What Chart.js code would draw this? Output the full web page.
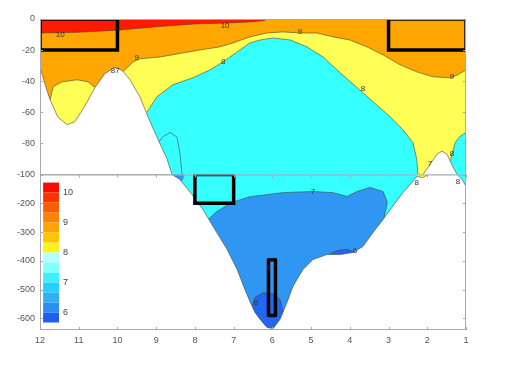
<!DOCTYPE html>
<html>
<head>
<meta charset="utf-8">
<script src="https://cdn.jsdelivr.net/npm/chart.js@4.4.1/dist/chart.umd.min.js"></script>
<style>
  html, body { margin: 0; padding: 0; background: #fff; }
  #wrap { width: 510px; height: 365px; }
</style>
</head>
<body>
<div id="wrap"><canvas id="chart"></canvas></div>
<script>
// ===== tick labels =====
const xTicks = [12, 11, 10, 9, 8, 7, 6, 5, 4, 3, 2, 1];
const topTicks = [0, -20, -40, -60, -80, -100];
const botTicks = [-200, -300, -400, -500, -600];

// ===== contour lines: [x, depth] =====
// upper panel (0 .. -100 m)
const line10 = [[12, -9], [11, -8.5], [10, -7.2], [9, -5], [8, -3.2], [7, -2.4], [6.5, -1.8], [6.19, -0.9]];
const line9 = [[9.86, -34], [9.6, -27.6], [9.42, -25.6], [8.9, -24.4], [8.31, -21.8], [7.87, -19.9], [7.35, -17.9],
  [7.02, -15.4], [6.58, -11.5], [6.14, -9], [5.73, -8.3], [5.29, -9], [4.85, -9], [4.43, -11.5], [4, -13.5],
  [3.56, -17.9], [3.14, -23.1], [2.7, -29.5], [2.27, -34], [1.85, -37.2], [1.41, -37.8], [1.21, -35.9], [1, -32.7]];
const blob9 = [[10.58, -44], [10.76, -40.4], [11.04, -39.1], [11.43, -40.4], [11.66, -43.6], [11.74, -52]];
const line8 = [[9.24, -60], [8.98, -50], [8.57, -42.3], [8.05, -37.8], [7.61, -32.7], [7.27, -27.6], [7.02, -23.1],
  [6.58, -15.4], [6.32, -13.5], [5.98, -12.2], [5.54, -13.5], [5.11, -17.9], [4.69, -24.4], [4.25, -34.6],
  [3.81, -44.2], [3.4, -53.2], [2.96, -62.8], [2.63, -71.2], [2.37, -79.5], [2.27, -90.4], [2.24, -100]];
const right8 = [[1, -73], [1.16, -75.6], [1.28, -79.5], [1.36, -87], [1.4, -91]];
const loop7 = [[8.93, -79], [8.82, -75.6], [8.64, -73], [8.46, -76], [8.39, -86], [8.33, -100]];
const seabedLeft = [[12, -30.8], [11.87, -42], [11.74, -52], [11.54, -63], [11.3, -68], [11.1, -66], [10.84, -56],
  [10.58, -44], [10.32, -35], [10.06, -31], [9.88, -33], [9.68, -39], [9.42, -50], [9.21, -63], [8.98, -76],
  [8.72, -90], [8.59, -100], [12, -100]];
const seabedHill = [[2.11, -100], [1.93, -93.6], [1.75, -87], [1.62, -85], [1.49, -87], [1.36, -94], [1.23, -100]];

// lower panel (-100 .. -640 m)
const line7 = [[7.66, -256], [7.43, -228], [7.02, -196], [6.58, -177], [5.73, -163], [4.95, -159], [4.43, -163],
  [4.07, -176], [3.81, -159], [3.48, -145], [3.14, -159], [3.03, -197], [3.12, -252]];
const deep6a = [[6.53, -559], [6.45, -527], [6.24, -510], [5.98, -514], [5.8, -534], [5.72, -580]];
const deep6b = [[4.59, -381], [4.33, -364], [4.07, -360], [3.81, -374]];
const seabedLow = [[12, -100], [8.59, -100], [8.39, -117], [8.08, -169], [7.79, -222], [7.53, -281], [7.17, -360],
  [6.91, -430], [6.71, -499], [6.58, -541], [6.45, -579], [6.32, -603], [6.14, -631], [5.98, -635], [5.8, -603],
  [5.62, -544], [5.47, -489], [5.21, -430], [4.95, -395], [4.59, -378], [4.25, -378], [3.92, -371], [3.66, -350],
  [3.4, -301], [3.14, -256], [2.89, -210], [2.63, -163], [2.37, -124], [2.27, -106], [2.12, -111], [1.98, -100],
  [1.23, -100], [1.1, -117], [1, -142], [1, -640], [12, -640]];

// black boxes
const boxA = [[12, 0], [10, 0], [10, -20], [12, -20], [12, 0]];
const boxB = [[3, 0], [1, 0], [1, -20], [3, -20], [3, 0]];
const boxC = [[8, -100], [7, -100], [7, -200], [8, -200], [8, -100]];
const boxD = [[6.1, -396], [5.92, -396], [5.92, -590], [6.1, -590], [6.1, -396]];

// colour bar
const cbLevels = [5.67, 6, 6.33, 6.67, 7, 7.33, 7.67, 8, 8.33, 8.67, 9, 9.33, 9.67, 10, 10.33];
const cbColors = ['#1f5ef2', '#2a8ef2', '#2fb0f6', '#22d2fa', '#3ef0fa', '#86ffff', '#b4ffff',
  '#fff21a', '#ffc600', '#ffa400', '#ff8200', '#ff5c00', '#ff3400', '#ff0a00'];
const cbTicks = [6, 7, 8, 9, 10];

// contour labels: [text, x, depth, axis]
const contourLabels = [
  ['10', 11.48, -10.3, 'yTop'], ['10', 7.22, -4.5, 'yTop'], ['9', 9.5, -25, 'yTop'], ['9', 5.29, -8.3, 'yTop'],
  ['9', 1.36, -37, 'yTop'], ['8', 7.27, -27.6, 'yTop'], ['8', 3.66, -45, 'yTop'], ['87', 10.06, -33, 'yTop'],
  ['7', 1.93, -93, 'yTop'], ['8', 1.36, -87, 'yTop'],
  ['7', 4.95, -159, 'yBot'], ['8', 2.27, -128, 'yBot'], ['8', 1.21, -124, 'yBot'],
  ['6', 3.87, -365, 'yBot'], ['6', 6.42, -544, 'yBot']
];

const RED = '#ff1a00', ORANGE = '#ffa600', YELLOW = '#ffff55', CYAN = '#35ffff', BLUE = '#3096f4', DEEP = '#2266f4';
const LINE = 'rgba(70,70,50,0.75)';

// ===== build polygons from the contour lines =====
const rev = a => a.slice().reverse();
const yellowTop = [[12, 0], [1, 0], ...right8, [1.6, -100], [2.24, -100], ...rev(line8), [9.24, -100], [12, -100]];
const orangeTop = [[12, 0], [1, 0], ...rev(line9), [10.2, -45], ...blob9, [12, -60]];
const redTop = [[12, 0], [6.1, 0], ...rev(line10)];
const cyanLow = [[12, -100], [1, -100], [1, -300], [3.05, -262], ...rev(line7), [8, -300], [12, -300]];
const blueNotch = [[8.59, -100], [8.26, -100], [8.33, -124], [8.45, -125]];
const yellowCap = [[2.32, -100], [1.95, -100], [2.12, -116]];
const deepA = [...deep6a, [5.9, -640], [6.3, -640]];
const deepB = [[4.62, -395], ...deep6b, [3.85, -395]];

const toXY = pts => pts.map(p => ({ x: p[0], y: p[1] }));

function area(pts, color, axis, order, stroke) {
  return {
    data: toXY(pts), yAxisID: axis, order: order,
    fill: 'shape', backgroundColor: color,
    borderColor: stroke || color, borderWidth: stroke ? 0.8 : 0,
    pointRadius: 0, tension: 0
  };
}
function contour(pts, axis, order) {
  return {
    data: toXY(pts), yAxisID: axis, order: order, fill: false,
    borderColor: LINE, borderWidth: 0.8, pointRadius: 0, tension: 0
  };
}
function box(pts, axis, round) {
  return {
    data: toXY(pts), yAxisID: axis, order: 1, fill: false,
    borderColor: '#000', borderWidth: 3.5, pointRadius: 0, tension: 0,
    borderJoinStyle: round ? 'round' : 'miter', borderCapStyle: round ? 'round' : 'square'
  };
}

// colour bar sits in the lower panel: value -> depth
const cbX = [11.92, 11.51];
const cbDepth = [-614, -128];
const cbY = v => cbDepth[0] + (v - cbLevels[0]) / (cbLevels[cbLevels.length - 1] - cbLevels[0]) * (cbDepth[1] - cbDepth[0]);

const datasets = [
  area([[12, 0], [1, 0], [1, -100], [12, -100]], CYAN, 'yTop', 100),
  area(yellowTop, YELLOW, 'yTop', 90),
  area(orangeTop, ORANGE, 'yTop', 80),
  area(redTop, RED, 'yTop', 70),
  area([[12, -100], [1, -100], [1, -640], [12, -640]], BLUE, 'yBot', 100),
  area(cyanLow, CYAN, 'yBot', 90),
  area(yellowCap, YELLOW, 'yBot', 85),
  area(blueNotch, BLUE, 'yBot', 80),
  area(deepA, DEEP, 'yBot', 80),
  area(deepB, DEEP, 'yBot', 80),
  contour(line10, 'yTop', 60), contour(line9, 'yTop', 60), contour(blob9, 'yTop', 60),
  contour(line8, 'yTop', 60), contour(right8, 'yTop', 60), contour(loop7, 'yTop', 60),
  contour(line7, 'yBot', 60), contour(deep6a, 'yBot', 60), contour(deep6b, 'yBot', 60),
  area(seabedLeft, '#fff', 'yTop', 50, LINE),
  area(seabedHill, '#fff', 'yTop', 50, LINE),
  area(seabedLow, '#fff', 'yBot', 50, LINE),
  box(boxA, 'yTop'), box(boxB, 'yTop'), box(boxC, 'yBot'), box(boxD, 'yBot', true)
];
cbColors.forEach((c, i) => {
  const y0 = cbY(cbLevels[i]), y1 = cbY(cbLevels[i + 1]);
  datasets.push(area([[cbX[0], y0], [cbX[1], y0], [cbX[1], y1], [cbX[0], y1]], c, 'yBot', 40));
});

// ===== plugins: frame with inward ticks, and text labels =====
const framePlugin = {
  id: 'frame',
  afterDatasetsDraw(chart) {
    const { ctx, chartArea: a, scales } = chart;
    const mid = scales.yTop.bottom;
    ctx.save();
    ctx.strokeStyle = '#a9a9a9';
    ctx.lineWidth = 1;
    ctx.strokeRect(a.left + 0.5, a.top + 0.5, a.width - 1, a.height - 1);
    ctx.beginPath();
    ctx.moveTo(a.left, mid + 0.5); ctx.lineTo(a.right, mid + 0.5);
    [scales.yTop, scales.yBot].forEach(s => {
      s.ticks.forEach(t => {
        const py = Math.round(s.getPixelForValue(t.value)) + 0.5;
        ctx.moveTo(a.left, py); ctx.lineTo(a.left + 3, py);
        ctx.moveTo(a.right, py); ctx.lineTo(a.right - 3, py);
      });
    });
    xTicks.forEach(v => {
      const px = Math.round(scales.x.getPixelForValue(v)) + 0.5;
      ctx.moveTo(px, a.bottom); ctx.lineTo(px, a.bottom - 3);
      ctx.moveTo(px, mid); ctx.lineTo(px, mid + 3);
    });
    ctx.stroke();
    ctx.restore();
  },
  afterDraw(chart) {
    const { ctx, scales } = chart;
    ctx.save();
    ctx.font = '8px "Liberation Sans", Arial, sans-serif';
    ctx.fillStyle = '#333';
    ctx.textAlign = 'center';
    ctx.textBaseline = 'middle';
    contourLabels.forEach(l => {
      ctx.fillText(l[0], scales.x.getPixelForValue(l[1]), scales[l[3]].getPixelForValue(l[2]));
    });
    ctx.font = '9px "Liberation Sans", Arial, sans-serif';
    ctx.fillStyle = '#444';
    ctx.textAlign = 'left';
    cbTicks.forEach(v => {
      ctx.fillText(String(v), scales.x.getPixelForValue(cbX[1]) + 4, scales.yBot.getPixelForValue(cbY(v)));
    });
    ctx.restore();
  }
};

const tickFont = { family: '"Liberation Sans", Arial, sans-serif', size: 9 };
function yAxis(min, max, ticks) {
  return {
    type: 'linear', position: 'left', stack: 'depth', stackWeight: 1, min: min, max: max,
    afterBuildTicks: s => { s.ticks = ticks.map(v => ({ value: v })); },
    afterFit: s => { s.width = 40; },
    ticks: { font: tickFont, color: '#555', padding: 5 },
    grid: { display: false, drawTicks: false }, border: { display: false }
  };
}

new Chart(document.getElementById('chart'), {
  type: 'line',
  data: { datasets: datasets },
  plugins: [framePlugin],
  options: {
    responsive: true,
    maintainAspectRatio: false,
    animation: false,
    layout: { padding: { top: 19, right: 44, left: 0, bottom: 0 } },
    plugins: { legend: { display: false }, tooltip: { enabled: false } },
    scales: {
      x: {
        type: 'linear', min: 1, max: 12, reverse: true,
        afterBuildTicks: s => { s.ticks = xTicks.map(v => ({ value: v })); },
        afterFit: s => { s.height = 35; },
        ticks: { font: tickFont, color: '#555', padding: 5, maxRotation: 0, autoSkip: false },
        grid: { display: false, drawTicks: false }, border: { display: false }
      },
      yBot: yAxis(-640, -100, botTicks),
      yTop: yAxis(-100, 0, topTicks)
    }
  }
});
</script>
</body>
</html>
